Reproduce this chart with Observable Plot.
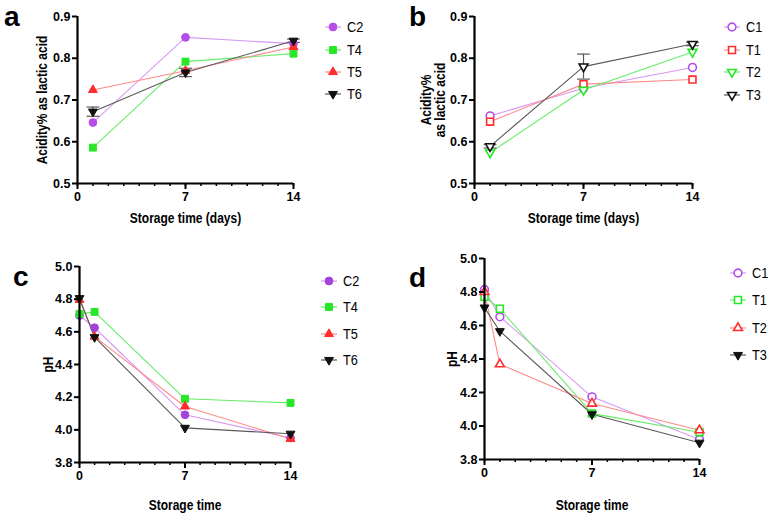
<!DOCTYPE html>
<html><head><meta charset="utf-8">
<script src="https://cdn.jsdelivr.net/npm/d3@7"></script>
<script src="https://cdn.jsdelivr.net/npm/@observablehq/plot@0.6"></script>
<style>
body{margin:0;background:#fff;}
#wrap{position:relative;width:773px;height:519px;background:#fff;overflow:hidden;}
.panel{position:absolute;}
#overlay{position:absolute;left:0;top:0;pointer-events:none;}
</style></head>
<body><div id="wrap"></div>
<script>
// ---- data ----
const days3 = [1, 7, 14];
const days4 = [0, 1, 7, 14];
const majorTicks = [0, 7, 14];
const minorTicks = [0,1,2,3,4,5,6,7,8,9,10,11,12,13,14];
const acidTicks = [0.5, 0.6, 0.7, 0.8, 0.9];
const phTicks = [3.8, 4.0, 4.2, 4.4, 4.6, 4.8, 5.0];

const namesA = ["C2", "T4", "T5", "T6"];
const namesB = ["C1", "T1", "T2", "T3"];

// panel a: acidity, C2 / T4 / T5 / T6
const a_C2 = [0.646, 0.850, 0.835];
const a_T4 = [0.586, 0.792, 0.811];
const a_T5 = [0.724, 0.770, 0.827];
const a_T6 = [0.672, 0.766, 0.842];
const a_T6_err = [0.011, 0.010, 0.004];

// panel b: acidity, C1 / T1 / T2 / T3
const b_C1 = [0.662, 0.728, 0.778];
const b_T1 = [0.648, 0.738, 0.749];
const b_T2 = [0.574, 0.724, 0.815];
const b_T3 = [0.589, 0.780, 0.834];
const b_T3_err = [0.004, 0.030, 0.004];

// panel c: pH, C2 / T4 / T5 / T6
const c_C2 = [4.700, 4.625, 4.092, 3.950];
const c_T4 = [4.710, 4.722, 4.190, 4.165];
const c_T5 = [4.796, 4.571, 4.143, 3.945];
const c_T6 = [4.806, 4.567, 4.012, 3.976];

// panel d: pH, C1 / T1 / T2 / T3
const d_C1 = [4.815, 4.652, 4.174, 3.919];
const d_T1 = [4.771, 4.700, 4.074, 3.963];
const d_T2 = [4.800, 4.369, 4.134, 3.975];
const d_T3 = [4.707, 4.566, 4.070, 3.900];

// ---- styles ----
const PURPLE = "#b64de8", PURPLE_L = "#d898f3", PURPLE_D = "#a443dc";
const GREEN = "#28e628", GREEN_L = "#66ec66";
const RED = "#ff2d2d", RED_L = "#ff8a8a";
const BLACK = "#111111", BLACK_L = "#5a5a5a";
const TICKFONT = "'Liberation Sans', Arial, sans-serif";
const TITLEFONT = "'Liberation Sans', Arial, sans-serif";

const downTri = {
  draw(ctx, size) {
    const y = -Math.sqrt(size / (Math.sqrt(3) * 3));
    ctx.moveTo(0, -y * 2);
    ctx.lineTo(-Math.sqrt(3) * y, y);
    ctx.lineTo(Math.sqrt(3) * y, y);
    ctx.closePath();
  }
};
const capSym = {
  draw(ctx, size) { const w = Math.sqrt(size) * 0.9; ctx.moveTo(-w, 0); ctx.lineTo(w, 0); }
};
const plotSym = {circle: "circle", square: "square", triangle: "triangle", down: downTri};
const d3Sym = {circle: d3.symbolCircle, square: d3.symbolSquare, triangle: d3.symbolTriangle, down: downTri};
const symR = {circle: 3.9, square: 3.9, triangle: 3.3, down: 3.3};

function rows(days, vals, err) {
  return days.map((d, i) => ({day: d, v: vals[i], e: err ? err[i] : 0}));
}
function squeeze(el, f) {
  const n = el.getComputedTextLength();
  if (n > 0) { el.setAttribute("textLength", n * f); el.setAttribute("lengthAdjust", "spacingAndGlyphs"); }
}

const panels = [
  {letter: "a", lx: 4, ly: 25, left: 0, top: 0, ml: 77, mt: 16, inner: 216, bottomY: 183, mb: 50,
   yDomain: [0.5, 0.9], yTicks: acidTicks, yLabel: "Acidity% as lactic acid", yDx: -35,
   xLabel: "Storage time (days)", xDy: 35, xTicks: majorTicks,
   legX: 333, legY: [27, 50, 72, 94],
   series: [
     {name: namesA[0], data: rows(days3, a_C2), c: PURPLE, l: PURPLE_L, s: "circle", hollow: false},
     {name: namesA[1], data: rows(days3, a_T4), c: GREEN, l: GREEN_L, s: "square", hollow: false},
     {name: namesA[2], data: rows(days3, a_T5), c: RED, l: RED_L, s: "triangle", hollow: false},
     {name: namesA[3], data: rows(days3, a_T6, a_T6_err), c: BLACK, l: BLACK_L, s: "down", hollow: false}
   ]},
  {letter: "b", lx: 409, ly: 25, left: 390, top: 0, ml: 84, mt: 16, inner: 218, bottomY: 183, mb: 50,
   yDomain: [0.5, 0.9], yTicks: acidTicks, yLabel: "Acidity%\nas lactic acid", yDx: -41,
   xLabel: "Storage time (days)", xDy: 35, xTicks: majorTicks,
   legX: 732, legY: [27, 50, 72, 95],
   series: [
     {name: namesB[0], data: rows(days3, b_C1), c: PURPLE, l: PURPLE_L, s: "circle", hollow: true},
     {name: namesB[1], data: rows(days3, b_T1), c: RED, l: RED_L, s: "square", hollow: true},
     {name: namesB[2], data: rows(days3, b_T2), c: GREEN, l: GREEN_L, s: "down", hollow: true},
     {name: namesB[3], data: rows(days3, b_T3, b_T3_err), c: BLACK, l: BLACK_L, s: "down", hollow: true}
   ]},
  {letter: "c", lx: 13, ly: 285, left: 0, top: 250, ml: 79, mt: 16, inner: 211, bottomY: 212, mb: 55,
   yDomain: [3.8, 5.0], yTicks: phTicks, yLabel: "pH", yDx: -31,
   xLabel: "Storage time", xDy: 43, xTicks: majorTicks,
   legX: 329, legY: [281, 307, 334, 360],
   series: [
     {name: namesA[0], data: rows(days4, c_C2), c: PURPLE_D, l: PURPLE_L, s: "circle", hollow: false},
     {name: namesA[1], data: rows(days4, c_T4), c: GREEN, l: GREEN_L, s: "square", hollow: false},
     {name: namesA[2], data: rows(days4, c_T5), c: RED, l: RED_L, s: "triangle", hollow: false},
     {name: namesA[3], data: rows(days4, c_T6), c: BLACK, l: BLACK_L, s: "down", hollow: false}
   ]},
  {letter: "d", lx: 409, ly: 286, left: 390, top: 250, ml: 94, mt: 8, inner: 215, bottomY: 209, mb: 55,
   yDomain: [3.8, 5.0], yTicks: phTicks, yLabel: "pH", yDx: -32,
   xLabel: "Storage time", xDy: 46, xTicks: majorTicks,
   legX: 738, legY: [273, 300, 328, 355],
   series: [
     {name: namesB[0], data: rows(days4, d_C1), c: PURPLE, l: PURPLE_L, s: "circle", hollow: true},
     {name: namesB[1], data: rows(days4, d_T1), c: GREEN, l: GREEN_L, s: "square", hollow: true},
     {name: namesB[2], data: rows(days4, d_T2), c: RED, l: RED_L, s: "triangle", hollow: true},
     {name: namesB[3], data: rows(days4, d_T3), c: BLACK, l: BLACK_L, s: "down", hollow: false}
   ]}
];

const wrap = document.getElementById("wrap");

for (const p of panels) {
  const marks = [];
  for (const s of p.series) {
    marks.push(Plot.line(s.data, {x: "day", y: "v", stroke: s.l, strokeWidth: 1.1}));
  }
  for (const s of p.series) {
    const withErr = s.data.filter(d => d.e > 0);
    if (withErr.length) {
      marks.push(Plot.ruleX(withErr, {x: "day", y1: d => d.v - d.e, y2: d => d.v + d.e, stroke: s.l, strokeWidth: 1.2}));
      marks.push(Plot.dot(withErr, {x: "day", y: d => d.v + d.e, symbol: capSym, r: 4, stroke: s.l, strokeWidth: 1.2, fill: "none"}));
      marks.push(Plot.dot(withErr, {x: "day", y: d => d.v - d.e, symbol: capSym, r: 4, stroke: s.l, strokeWidth: 1.2, fill: "none"}));
    }
  }
  for (const s of p.series) {
    marks.push(Plot.dot(s.data, {
      x: "day", y: "v", symbol: plotSym[s.s], r: symR[s.s],
      fill: s.hollow ? "white" : s.c, stroke: s.c, strokeWidth: s.hollow ? 1.6 : 1
    }));
  }
  marks.push(Plot.axisX({ticks: minorTicks, tickSize: 3, strokeWidth: 1.5, tickFormat: () => "", label: null}));
  marks.push(Plot.axisX({ticks: p.xTicks, tickSize: 6, strokeWidth: 2, tickPadding: 3, label: null}));
  marks.push(Plot.axisY({ticks: p.yTicks, tickSize: 5, strokeWidth: 2, tickPadding: 2, tickFormat: ".1f", label: null}));
  marks.push(Plot.ruleX([0], {strokeWidth: 2.2, stroke: "#000"}));
  marks.push(Plot.ruleY([p.yDomain[0]], {strokeWidth: 2.2, stroke: "#000"}));
  marks.push(Plot.text([p.yLabel], {frameAnchor: "left", textAnchor: "middle", lineAnchor: "middle", dx: p.yDx, rotate: -90,
    fontSize: 15, fontWeight: "bold", fontFamily: TITLEFONT, lineHeight: 0.95, fill: "#000"}));
  marks.push(Plot.text([p.xLabel], {frameAnchor: "bottom", textAnchor: "middle", lineAnchor: "middle", dy: p.xDy,
    fontSize: 15, fontWeight: "bold", fontFamily: TITLEFONT, fill: "#000"}));

  const svg = Plot.plot({
    width: p.ml + p.inner + 8,
    height: p.bottomY + p.mb,
    marginLeft: p.ml, marginRight: 8, marginTop: p.mt, marginBottom: p.mb,
    x: {domain: [0, 14], label: null},
    y: {domain: p.yDomain, label: null},
    style: {fontFamily: TICKFONT, fontWeight: "bold", fontSize: "12.5px", color: "#000", background: "transparent", overflow: "visible"},
    marks
  });
  const div = document.createElement("div");
  div.className = "panel";
  div.style.left = p.left + "px";
  div.style.top = p.top + "px";
  div.appendChild(svg);
  wrap.appendChild(div);
  // condense the axis titles (narrow face in the reference)
  d3.select(svg).selectAll("text").each(function() {
    if (!/[A-Za-z]/.test(this.textContent)) return;
    const tspans = this.querySelectorAll("tspan");
    if (tspans.length) tspans.forEach(t => squeeze(t, 0.8));
    else squeeze(this, 0.8);
  });
}

// overlay: panel letters + legends
const ov = d3.select(wrap).append("svg").attr("id", "overlay").attr("width", 773).attr("height", 519);
for (const p of panels) {
  ov.append("text").attr("x", p.lx).attr("y", p.ly + 1).text(p.letter)
    .attr("font-family", TICKFONT).attr("font-weight", "bold").attr("font-size", 28).attr("fill", "#000");
  p.series.forEach((s, i) => {
    const g = ov.append("g").attr("transform", `translate(${p.legX},${p.legY[i]})`);
    g.append("line").attr("x1", -8).attr("x2", 8).attr("stroke", s.l).attr("stroke-width", 1.2);
    const r = symR[s.s];
    g.append("path").attr("d", d3.symbol(d3Sym[s.s], Math.PI * r * r)())
      .attr("fill", s.hollow ? "white" : s.c).attr("stroke", s.c).attr("stroke-width", s.hollow ? 1.6 : 1);
    const t = g.append("text").attr("x", 14).attr("y", 0).attr("dy", "0.35em").text(s.name)
      .attr("font-family", TITLEFONT).attr("font-size", 15).attr("fill", "#000");
    squeeze(t.node(), 0.85);
  });
}
</script>
</body></html>
